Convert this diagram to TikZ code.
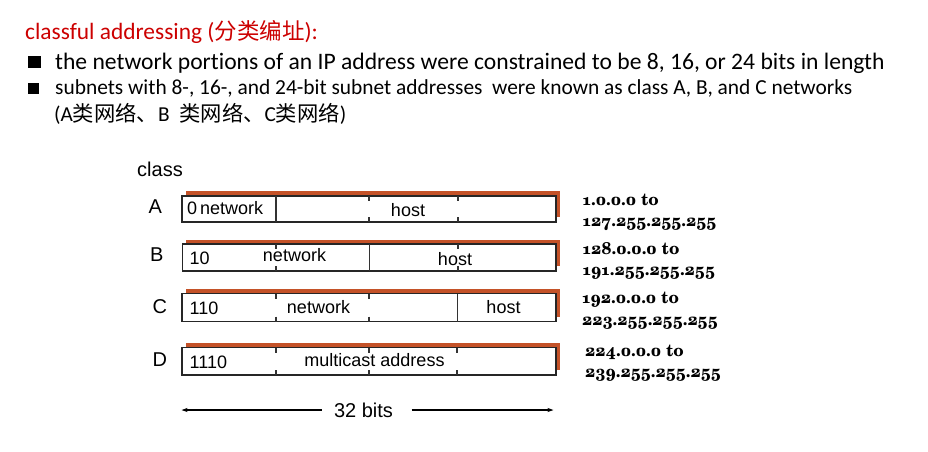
\documentclass[tikz,border=0pt]{standalone}
\usepackage{fontspec}
\setmainfont{Liberation Sans}
\newfontfamily\calfont[Ligatures={NoCommon}]{Carlito}
\newfontfamily\cjk{Noto Sans CJK SC}
\newfontfamily\rng[Numbers=OldStyle]{TeX Gyre Schola}
\usetikzlibrary{arrows.meta,calc}
\definecolor{titlered}{RGB}{204,0,0}
\definecolor{shadowc}{RGB}{196,82,40}
\begin{document}
\begin{tikzpicture}[x=1pt,y=-1pt,
  txt/.style={inner sep=0pt,anchor=base west},
  ctxt/.style={inner sep=0pt,anchor=base},
  boxtxt/.style={inner sep=0pt,anchor=base,font=\fontsize{18}{18}\selectfont},
  lbl/.style={inner sep=0pt,anchor=base west,font=\fontsize{20}{20}\selectfont},
  rngtxt/.style={inner sep=0pt,anchor=base west,font=\fontsize{17}{17}\selectfont\rng\bfseries},
  addr/.style={draw=black!85,line width=1.5pt,fill=white},
  shad/.style={fill=shadowc},
  divider/.style={draw=black!80,line width=1.2pt},
  tick/.style={draw=black!80,line width=1.2pt},
  dimarrow/.style={draw=black,line width=1.2pt,-{Stealth[length=6pt,width=4pt]}}]
\useasboundingbox (0,0) rectangle (928,451);
% heading
\node[txt,text=titlered] (title) at (25,39.3)
  {{\fontsize{23.4}{23.4}\selectfont\calfont classful addressing (}{\fontsize{22.5}{22.5}\selectfont\cjk 分类编址}{\fontsize{23.4}{23.4}\selectfont\calfont ):}};
\fill (27.5,56) rectangle (40.5,68);
\node[txt,font=\fontsize{23.6}{23.6}\selectfont\calfont] (b1) at (55,69.3)
  {the network portions of an IP address were constrained to be 8, 16, or 24 bits in length};
\fill (27.5,83) rectangle (38.5,93.5);
\node[txt,font=\fontsize{21.4}{21.4}\selectfont\calfont] (b2) at (55,94)
  {subnets with 8-, 16-, and 24-bit subnet addresses\ \ were known as class A, B, and C networks};
\node[txt,font=\fontsize{21.3}{21.3}\selectfont] (b3) at (54,121)
  {{\calfont (A}{\cjk 类网络、}{\calfont B\ \ }{\cjk 类网络、}{\calfont C}{\cjk 类网络}{\calfont )}};
% class labels
\node[lbl] (cls) at (137,176.7) {class};
\node[lbl] (la) at (148.3,213.3) {A};
\node[lbl] (lb) at (150,261) {B};
\node[lbl] (lc) at (152.5,313.3) {C};
\node[lbl] (ld) at (152.5,366) {D};
% ---- row A
\fill[shad] (185.5,191) rectangle (559.5,217);
\draw[addr] (182,196) rectangle (556,222);
\draw[divider] (276,196) -- (276,222);
\draw[tick] (369,196) -- (369,201) (369,217) -- (369,222);
\draw[tick] (458,196) -- (458,201) (458,217) -- (458,222);
\node[boxtxt,anchor=base west] (a0) at (187,214.3) {0\,network};
\node[boxtxt] (ah) at (408,216) {host};
% ---- row B
\fill[shad] (186,239.5) rectangle (559.5,266);
\draw[addr] (182.5,244) rectangle (556,271);
\draw[divider] (369.5,244) -- (369.5,271);
\draw[tick] (276,244) -- (276,249) (276,266) -- (276,271);
\draw[tick] (458,244) -- (458,249) (458,266) -- (458,271);
\node[boxtxt,anchor=base west] (b10) at (189.5,264.3) {10};
\node[boxtxt] (bn) at (294.5,261.7) {network};
\node[boxtxt] (bh) at (455,265) {host};
% ---- row C
\fill[shad] (185.5,289) rectangle (559.5,317);
\draw[addr] (182,293.5) rectangle (556,321.5);
\draw[divider] (457.5,293.5) -- (457.5,321.5);
\draw[tick] (276,293.5) -- (276,298.5) (276,316.5) -- (276,321.5);
\draw[tick] (369,293.5) -- (369,298.5) (369,316.5) -- (369,321.5);
\node[boxtxt,anchor=base west] (c110) at (189.5,314.3) {110};
\node[boxtxt] (cn) at (318.5,313.3) {network};
\node[boxtxt] (ch) at (503.5,313.3) {host};
% ---- row D
\fill[shad] (186,342.5) rectangle (560,370);
\draw[addr] (182,347.5) rectangle (556,375);
\draw[tick] (276,347.5) -- (276,352.5) (276,370) -- (276,375);
\draw[tick] (369,347.5) -- (369,352.5) (369,370) -- (369,375);
\draw[tick] (457,347.5) -- (457,352.5) (457,370) -- (457,375);
\node[boxtxt,anchor=base west] (d1110) at (189.5,368.3) {1110};
\node[boxtxt] (dm) at (374.5,366) {multicast address};
% ---- 32 bits
\node[ctxt,font=\fontsize{20}{20}\selectfont] (bits) at (363.5,417.7) {32 bits};
\coordinate (lend) at (181.5,410);
\coordinate (rend) at (553.5,410);
\draw[dimarrow] (321.5,410) -- (lend);
\draw[dimarrow] (411.5,410) -- (rend);
% ---- ranges
\node[rngtxt] (r1a) at (582.5,205) {1.0.0.0 to};
\node[rngtxt] (r1b) at (582.5,226.7) {127.255.255.255};
\node[rngtxt] (r2a) at (582.5,254) {128.0.0.0 to};
\node[rngtxt] (r2b) at (582.5,275.7) {191.255.255.255};
\node[rngtxt] (r3a) at (582,303.3) {192.0.0.0 to};
\node[rngtxt] (r3b) at (582,325) {223.255.255.255};
\node[rngtxt] (r4a) at (585,356) {224.0.0.0 to};
\node[rngtxt] (r4b) at (585,377.3) {239.255.255.255};
\end{tikzpicture}
\end{document}
